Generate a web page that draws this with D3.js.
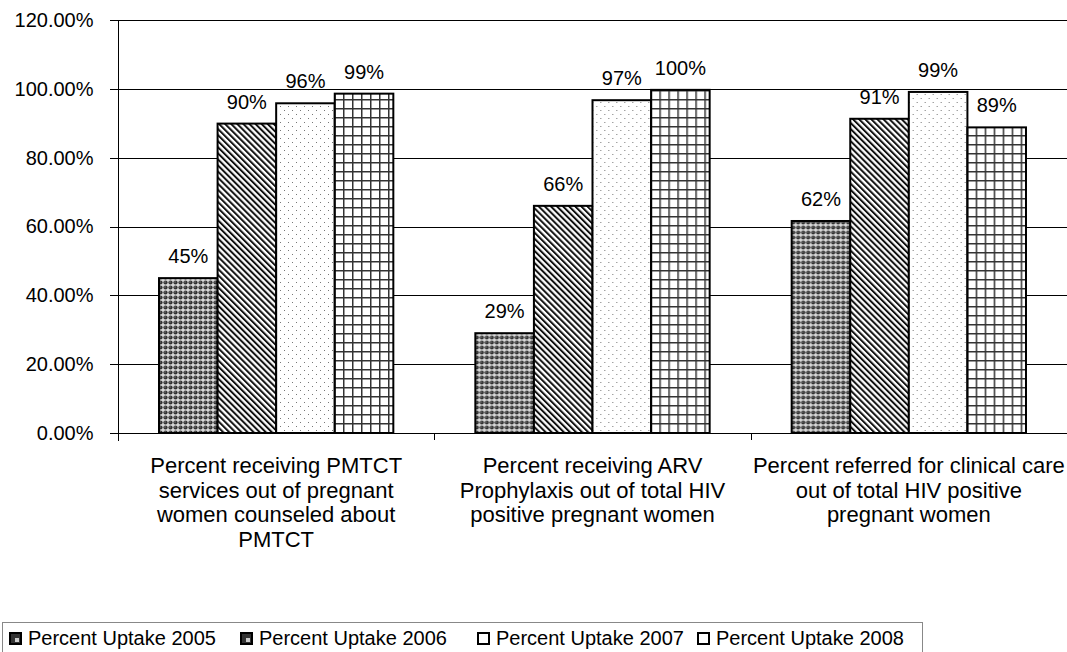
<!DOCTYPE html>
<html>
<head>
<meta charset="utf-8">
<script src="https://cdn.jsdelivr.net/npm/d3@7"></script>
<style>
  body { margin: 0; background: #fff; }
  svg { display: block; font-family: "Liberation Sans", Arial, sans-serif; }
</style>
</head>
<body>
<svg id="chart" width="1067" height="652"></svg>
<script>
// 데이터
const categories = ["pmtct", "arv", "care"];
const categoryLines = [
	["Percent receiving PMTCT", "services out of pregnant", "women counseled about", "PMTCT"],
	["Percent receiving ARV", "Prophylaxis out of total HIV", "positive pregnant women"],
	["Percent referred for clinical care", "out of total HIV positive", "pregnant women"]
];
const seriesNames = ["Percent Uptake 2005", "Percent Uptake 2006", "Percent Uptake 2007", "Percent Uptake 2008"];
const uptake2005 = [0.450, 0.290, 0.616];
const uptake2006 = [0.899, 0.660, 0.913];
const uptake2007 = [0.958, 0.967, 0.991];
const uptake2008 = [0.986, 0.997, 0.888];
const barLabels = [
	["45%", "90%", "96%", "99%"],
	["29%", "66%", "97%", "100%"],
	["62%", "91%", "99%", "89%"]
];
const yTicks = [0, 0.2, 0.4, 0.6, 0.8, 1.0, 1.2];

const seriesValues = [uptake2005, uptake2006, uptake2007, uptake2008];

var svg = d3.select("#chart");
var plotLeft = 118, plotRight = 1067, plotTop = 20, plotBottom = 433;

// 패턴 정의
var defs = svg.append("defs");

var p0 = defs.append("pattern").attr("id", "pat0")
	.attr("patternUnits", "userSpaceOnUse").attr("width", 5).attr("height", 5);
p0.append("rect").attr("width", 5).attr("height", 5).attr("fill", "#d8d8d8");
p0.append("circle").attr("cx", 2.5).attr("cy", 2.5).attr("r", 2.1).attr("fill", "#333");
p0.append("circle").attr("cx", 2.0).attr("cy", 2.0).attr("r", 0.7).attr("fill", "#888");

var p1 = defs.append("pattern").attr("id", "pat1")
	.attr("patternUnits", "userSpaceOnUse").attr("width", 4.3).attr("height", 10)
	.attr("patternTransform", "rotate(-45)");
p1.append("rect").attr("width", 4.3).attr("height", 10).attr("fill", "#fff");
p1.append("rect").attr("width", 2).attr("height", 10).attr("fill", "#111");

var p2 = defs.append("pattern").attr("id", "pat2")
	.attr("patternUnits", "userSpaceOnUse").attr("width", 8).attr("height", 8);
p2.append("rect").attr("width", 8).attr("height", 8).attr("fill", "#fff");
p2.append("rect").attr("x", 2).attr("y", 2).attr("width", 1).attr("height", 1).attr("fill", "#777");
p2.append("rect").attr("x", 6).attr("y", 6).attr("width", 1).attr("height", 1).attr("fill", "#777");

var p3 = defs.append("pattern").attr("id", "pat3")
	.attr("patternUnits", "userSpaceOnUse").attr("width", 9).attr("height", 9);
p3.append("rect").attr("width", 9).attr("height", 9).attr("fill", "#fff");
p3.append("rect").attr("x", 0).attr("y", 0).attr("width", 1.5).attr("height", 9).attr("fill", "#333");
p3.append("rect").attr("x", 0).attr("y", 0).attr("width", 9).attr("height", 1.5).attr("fill", "#333");

// 스케일
var x0 = d3.scaleBand().domain(categories).range([plotLeft, plotRight]).padding(0);
var x1 = d3.scaleBand().domain(d3.range(4)).range([0, x0.bandwidth()])
	.paddingInner(0).paddingOuter(0.7);
var y = d3.scaleLinear().domain([0, 1.2]).range([plotBottom, plotTop]);

// 그리드
svg.append("g").selectAll("line").data(yTicks).join("line")
	.attr("x1", plotLeft - 8).attr("x2", plotRight)
	.attr("y1", d => Math.round(y(d)) + 0.5).attr("y2", d => Math.round(y(d)) + 0.5)
	.attr("stroke", "#000").attr("stroke-width", 1);

// y축
var yAxis = svg.append("g").attr("transform", `translate(${plotLeft + 0.5},0)`)
	.call(d3.axisLeft(y).tickValues(yTicks).tickSize(0).tickPadding(25)
		.tickFormat(d => (d * 100).toFixed(2) + "%"));
yAxis.select(".domain").remove();
yAxis.selectAll("text").style("font-size", "20px").attr("fill", "#000")
	.style("font-family", "'Liberation Sans', Arial, sans-serif");
svg.append("line").attr("x1", plotLeft + 0.5).attr("x2", plotLeft + 0.5)
	.attr("y1", plotTop).attr("y2", plotBottom + 8).attr("stroke", "#000");

// x축 구분 눈금
svg.append("g").selectAll("line").data(categories.slice(1)).join("line")
	.attr("x1", d => Math.round(x0(d)) + 0.5).attr("x2", d => Math.round(x0(d)) + 0.5)
	.attr("y1", plotBottom).attr("y2", plotBottom + 7).attr("stroke", "#000");

// 막대
var groups = svg.append("g").selectAll("g").data(categories).join("g")
	.attr("transform", d => `translate(${x0(d)},0)`);

groups.selectAll("rect")
	.data((c, ci) => seriesValues.map((s, si) => ({ si: si, ci: ci, v: s[ci] })))
	.join("rect")
	.attr("x", d => x1(d.si))
	.attr("width", x1.bandwidth())
	.attr("y", d => y(d.v))
	.attr("height", d => plotBottom - y(d.v))
	.attr("fill", d => `url(#pat${d.si})`)
	.attr("stroke", "#000")
	.attr("stroke-width", 2);

groups.selectAll("text.label")
	.data((c, ci) => seriesValues.map((s, si) => ({ si: si, ci: ci, v: s[ci] })))
	.join("text")
	.attr("class", "label")
	.attr("x", d => x1(d.si) + x1.bandwidth() / 2)
	.attr("y", d => y(d.v) - 15)
	.attr("text-anchor", "middle")
	.style("font-size", "20px")
	.text(d => barLabels[d.ci][d.si]);

// 카테고리 라벨
svg.append("g").selectAll("text").data(categories).join("text")
	.attr("x", d => x0(d) + x0.bandwidth() / 2)
	.attr("y", 473)
	.attr("text-anchor", "middle")
	.style("font-size", "22px")
	.each(function(d, i) {
		d3.select(this).selectAll("tspan").data(categoryLines[i]).join("tspan")
			.attr("x", x0(d) + x0.bandwidth() / 2)
			.attr("dy", (t, j) => j === 0 ? 0 : 24.5)
			.text(t => t);
	});

// 범례
var legend = svg.append("g");
legend.append("rect")
	.attr("x", 2.5).attr("y", 622.5).attr("width", 920).attr("height", 40)
	.attr("fill", "#fff").attr("stroke", "#888");
var legendX = [9, 240, 477, 697];
var swatchFill = ["#333", "#333", "#fff", "#fff"];
var items = legend.selectAll("g.item").data(seriesNames).join("g")
	.attr("class", "item")
	.attr("transform", (d, i) => `translate(${legendX[i]},632)`);
items.append("rect")
	.attr("x", 1).attr("y", 1).attr("width", 11).attr("height", 11)
	.attr("fill", (d, i) => swatchFill[i])
	.attr("stroke", "#000").attr("stroke-width", 2);
items.filter((d, i) => i < 2).append("rect")
	.attr("x", 6).attr("y", 6).attr("width", 4).attr("height", 4)
	.attr("fill", "#ccc");
items.append("text")
	.attr("x", 19).attr("y", 13)
	.style("font-size", "20px")
	.text(d => d);
</script>
</body>
</html>
